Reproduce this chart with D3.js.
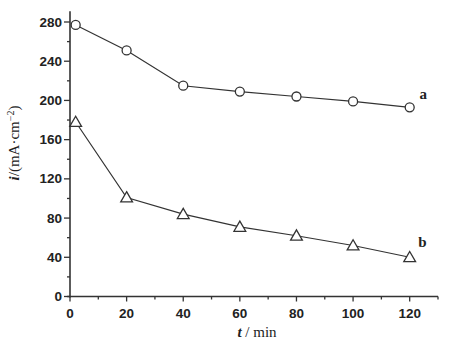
<!DOCTYPE html>
<html>
<head>
<meta charset="utf-8">
<script src="https://cdn.jsdelivr.net/npm/d3@7"></script>
<style>
  body { margin: 0; background: #fff; }
  text { fill: #222; }
</style>
</head>
<body>
<script>
// data
var times = [2, 20, 40, 60, 80, 100, 120];
var seriesA = [277, 251, 215, 209, 204, 199, 193];
var seriesB = [178, 101, 84, 71, 62, 52, 40];
var xTicks = [0, 20, 40, 60, 80, 100, 120];
var yTicks = [0, 40, 80, 120, 160, 200, 240, 280];

var W = 459, H = 353;
var svg = d3.select("body").append("svg")
            .attr("width", W)
            .attr("height", H)

var x = d3.scaleLinear().domain([0, 130]).range([70, 438]);
var y = d3.scaleLinear().domain([0, 280]).range([296.5, 22]);

var ink = "#333";

// axes
var xAxis = svg.append("g").attr("transform", "translate(0," + y(0) + ")");
xAxis.append("line").attr("x1", x(-1)).attr("x2", x(130)).attr("stroke", ink).attr("stroke-width", 1.6);
xAxis.selectAll(".minor").data(d3.range(0, 131, 10)).enter().append("line")
     .attr("x1", function(d) { return x(d) }).attr("x2", function(d) { return x(d) })
     .attr("y1", 0).attr("y2", function(d) { return d % 20 == 0 ? 5 : 3 })
     .attr("stroke", ink).attr("stroke-width", 1.3);
xAxis.selectAll(".lab").data(xTicks).enter().append("text")
     .attr("x", function(d) { return x(d) }).attr("y", 21)
     .attr("text-anchor", "middle")
     .style("font", "bold 13.5px 'Liberation Sans', Arial, sans-serif")
     .text(function(d) { return d });

var yAxis = svg.append("g").attr("transform", "translate(" + x(0) + ",0)");
yAxis.append("line").attr("y1", y(-1)).attr("y2", y(291)).attr("stroke", ink).attr("stroke-width", 1.6);
yAxis.selectAll(".minor").data(d3.range(0, 281, 20)).enter().append("line")
     .attr("y1", function(d) { return y(d) }).attr("y2", function(d) { return y(d) })
     .attr("x1", 0).attr("x2", function(d) { return d % 40 == 0 ? -6 : -3 })
     .attr("stroke", ink).attr("stroke-width", 1.3);
yAxis.selectAll(".lab").data(yTicks).enter().append("text")
     .attr("x", -8).attr("y", function(d) { return y(d) + 4.5 })
     .attr("text-anchor", "end")
     .style("font", "bold 13.5px 'Liberation Sans', Arial, sans-serif")
     .text(function(d) { return d });

// axis titles
var yt = svg.append("text")
     .attr("transform", "translate(19,143) rotate(-90)")
     .attr("text-anchor", "middle")
     .style("font", "15px 'Liberation Serif', 'Times New Roman', serif");
yt.append("tspan").style("font-weight", "bold").style("font-style", "italic").text("i");
yt.append("tspan").text("/(mA·cm");
yt.append("tspan").attr("dy", -5).style("font-size", "10px").text("−2");
yt.append("tspan").attr("dy", 5).text(")");

var xt = svg.append("text")
     .attr("x", 257).attr("y", 337)
     .attr("text-anchor", "middle")
     .style("font", "15px 'Liberation Serif', 'Times New Roman', serif");
xt.append("tspan").style("font-weight", "bold").style("font-style", "italic").text("t");
xt.append("tspan").text(" / min");

// lines
var line = d3.line()
             .x(function(d, i) { return x(times[i]) })
             .y(function(d) { return y(d) });

svg.append("path").attr("d", line(seriesA)).attr("fill", "none").attr("stroke", ink).attr("stroke-width", 1.2);
svg.append("path").attr("d", line(seriesB)).attr("fill", "none").attr("stroke", ink).attr("stroke-width", 1.2);

svg.selectAll(".ca").data(seriesA).enter().append("circle")
   .attr("cx", function(d, i) { return x(times[i]) })
   .attr("cy", function(d) { return y(d) })
   .attr("r", 4.5)
   .attr("fill", "#fff").attr("stroke", ink).attr("stroke-width", 1.3);

var tri = d3.symbol().type(d3.symbolTriangle).size(60);
svg.selectAll(".tb").data(seriesB).enter().append("path")
   .attr("d", tri)
   .attr("transform", function(d, i) { return "translate(" + x(times[i]) + "," + (y(d) + 1) + ")" })
   .attr("fill", "#fff").attr("stroke", ink).attr("stroke-width", 1.3);

// series labels
svg.append("text").attr("x", x(123.5)).attr("y", y(201))
   .style("font", "bold 15px 'Liberation Serif', serif").text("a");
svg.append("text").attr("x", x(123)).attr("y", y(50))
   .style("font", "bold 15px 'Liberation Serif', serif").text("b");
</script>
</body>
</html>
